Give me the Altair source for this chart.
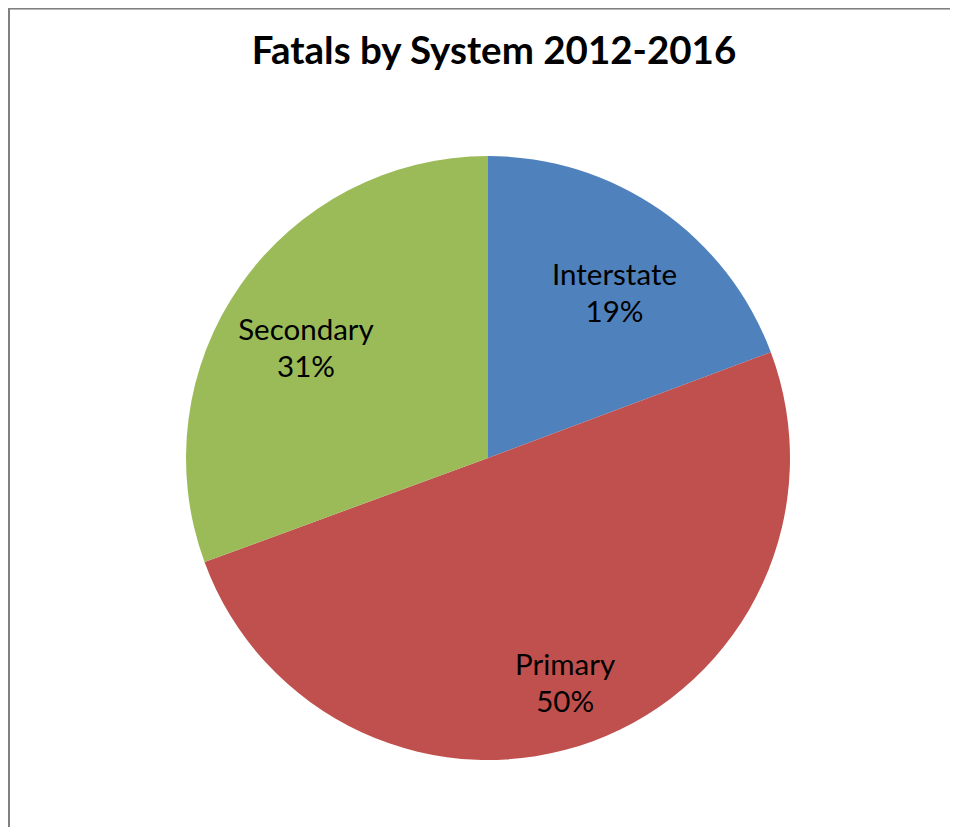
import altair as alt
import pandas as pd

categories = ["Interstate", "Primary", "Secondary"]
values = [19.3, 50.1, 30.6]
pct_labels = ["19%", "50%", "31%"]
colors = ["#4F81BD", "#C0504D", "#9BBB59"]

df = pd.DataFrame({
    "system": categories,
    "value": values,
    "idx": list(range(len(categories))),
    "label": [f"{c}\n{p}" for c, p in zip(categories, pct_labels)],
})

W, H = 942, 819
CX, CY = 480, 450

base = alt.Chart(df).encode(
    theta=alt.Theta("value:Q", stack=True),
    order=alt.Order("idx:O"),
)

pie = base.mark_arc(outerRadius=302, stroke=None).encode(
    color=alt.Color("system:N", scale=alt.Scale(domain=categories, range=colors), legend=None),
    x=alt.value(CX), y=alt.value(CY),
)

labels = base.mark_text(
    radius=222, font="Lato", fontSize=29.5, color="#000000",
    lineBreak="\n", lineHeight=37, align="center", baseline="middle",
).encode(
    text="label:N",
    x=alt.value(CX), y=alt.value(CY),
)

left_border = alt.Chart(df).mark_rule(color="#808080", strokeWidth=2).encode(
    x=alt.value(1), y=alt.value(0), y2=alt.value(H)
)
top_border = alt.Chart(df).mark_rule(color="#808080", strokeWidth=1.5).encode(
    y=alt.value(0.5), x=alt.value(0), x2=alt.value(W)
)

chart = alt.layer(pie, labels, left_border, top_border).properties(
    width=W, height=H,
    autosize=alt.AutoSizeParams(type="none"),
    padding=0,
    title=alt.TitleParams(
        "Fatals by System 2012-2016", font="Lato", fontSize=38.5, fontWeight="bold",
        color="#000000", anchor="middle", dx=15, dy=-17, offset=-82, baseline="top",
    ),
).configure_view(stroke=None)

chart.save("out.html", embed_options={"renderer": "svg", "actions": False})
